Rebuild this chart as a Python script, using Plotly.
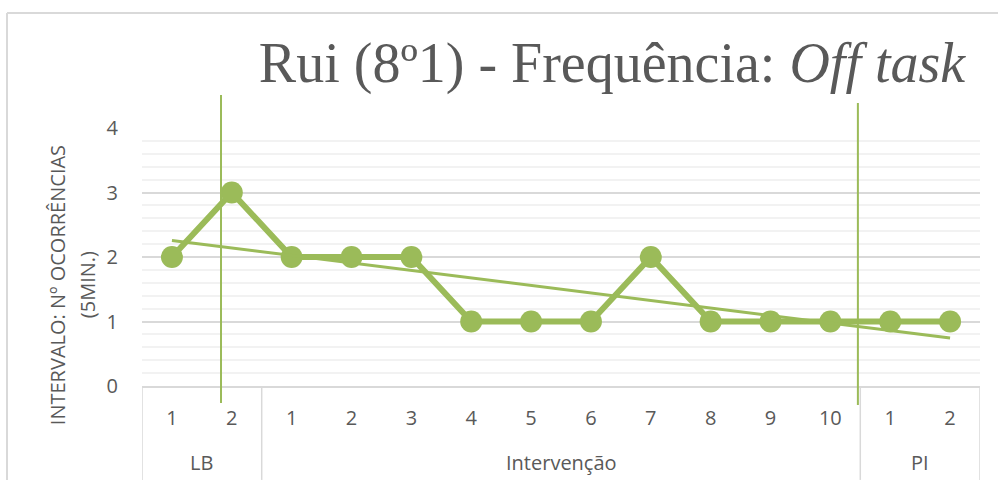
import numpy as np
import plotly.graph_objects as go

# ---- data ----
phases = ["LB", "Intervenção", "PI"]
session_labels = ["1", "2", "1", "2", "3", "4", "5", "6", "7", "8", "9", "10", "1", "2"]
phase_of_session = ["LB", "LB"] + ["Intervenção"] * 10 + ["PI", "PI"]
values = [2, 3, 2, 2, 2, 1, 1, 1, 2, 1, 1, 1, 1, 1]
phase_change_x = [0.82, 11.46]  # hand-drawn phase-change lines (category index units)

title_text = "Rui (8º1) - Frequência: <i>Off task</i>"
y_title_1 = "INTERVALO: Nº OCORRÊNCIAS"
y_title_2 = "(5MIN.)"

GREEN = "#9BBB59"
TXT = "#595959"
GRID = "#D9D9D9"
MINOR = "#F2F2F2"
FONT = "Open Sans"
FS = 20

x = np.arange(len(values))
slope, intercept = np.polyfit(x, values, 1)
trend = slope * x + intercept

fig = go.Figure()
fig.add_trace(go.Scatter(
    x=x, y=values, mode="lines+markers",
    line=dict(color=GREEN, width=6),
    marker=dict(color=GREEN, size=22),
    showlegend=False, hoverinfo="skip"))
fig.add_trace(go.Scatter(
    x=[x[0], x[-1]], y=[trend[0], trend[-1]], mode="lines",
    line=dict(color=GREEN, width=3),
    showlegend=False, hoverinfo="skip"))

# group boundaries
bounds = [-0.5]
for i in range(1, len(phase_of_session)):
    if phase_of_session[i] != phase_of_session[i - 1]:
        bounds.append(i - 0.5)
bounds.append(len(phase_of_session) - 0.5)

shapes = []
for b in bounds:
    shapes.append(dict(type="line", xref="x", yref="paper", x0=b, x1=b,
                       y0=0, y1=-0.364, line=dict(color=GRID, width=1.5)))
# outer border (left and top)
shapes.append(dict(type="line", xref="paper", yref="paper", x0=-0.1611, x1=-0.1611,
                   y0=-0.364, y1=1.4457, line=dict(color=GRID, width=2)))
shapes.append(dict(type="line", xref="paper", yref="paper", x0=-0.1611, x1=1.03,
                   y0=1.4457, y1=1.4457, line=dict(color=GRID, width=2)))
# phase change lines
ext = [(-0.066, 1.128), (-0.074, 1.097)]
for px, (ya, yb) in zip(phase_change_x, ext):
    shapes.append(dict(type="line", xref="x", yref="paper", x0=px, x1=px,
                       y0=ya, y1=yb, line=dict(color=GREEN, width=2)))

annotations = []
for ph in phases:
    idx = [i for i, p in enumerate(phase_of_session) if p == ph]
    annotations.append(dict(x=(idx[0] + idx[-1]) / 2, y=-0.298, xref="x", yref="paper",
                            text=ph, showarrow=False, yanchor="middle",
                            font=dict(family=FONT, size=FS, color=TXT)))
annotations.append(dict(x=-0.1014, y=0.391, xref="paper", yref="paper", text=y_title_1,
                        textangle=-90, showarrow=False, xanchor="center", yanchor="middle",
                        font=dict(family=FONT, size=FS, color=TXT)))
annotations.append(dict(x=-0.0656, y=0.391, xref="paper", yref="paper", text=y_title_2,
                        textangle=-90, showarrow=False, xanchor="center", yanchor="middle",
                        font=dict(family=FONT, size=FS, color=TXT)))

fig.update_layout(
    width=998, height=485,
    margin=dict(l=142, r=18, t=128, b=99),
    paper_bgcolor="white", plot_bgcolor="white",
    title=dict(text=title_text, x=612 / 998, xanchor="center", xref="container",
               y=1 - 62 / 485, yanchor="middle", yref="container",
               font=dict(family="Liberation Serif", size=56, color=TXT)),
    shapes=shapes, annotations=annotations,
    xaxis=dict(range=[-0.5, len(values) - 0.5], tickvals=list(x), ticktext=session_labels,
               showgrid=False, zeroline=False, showline=True, linecolor=GRID, linewidth=1.5,
               ticks="", ticklabelstandoff=13,
               tickfont=dict(family=FONT, size=FS, color=TXT)),
    yaxis=dict(range=[0, 4], dtick=1, showgrid=True, gridcolor=GRID, gridwidth=1.5,
               zeroline=False, showline=False, ticks="", ticklabelstandoff=23,
               minor=dict(dtick=0.2, showgrid=True, gridcolor=MINOR, gridwidth=1.5),
               tickfont=dict(family=FONT, size=FS, color=TXT)),
)

fig.write_html("out.html", config={"displayModeBar": False},
               post_script="document.body.style.margin='0px';")
